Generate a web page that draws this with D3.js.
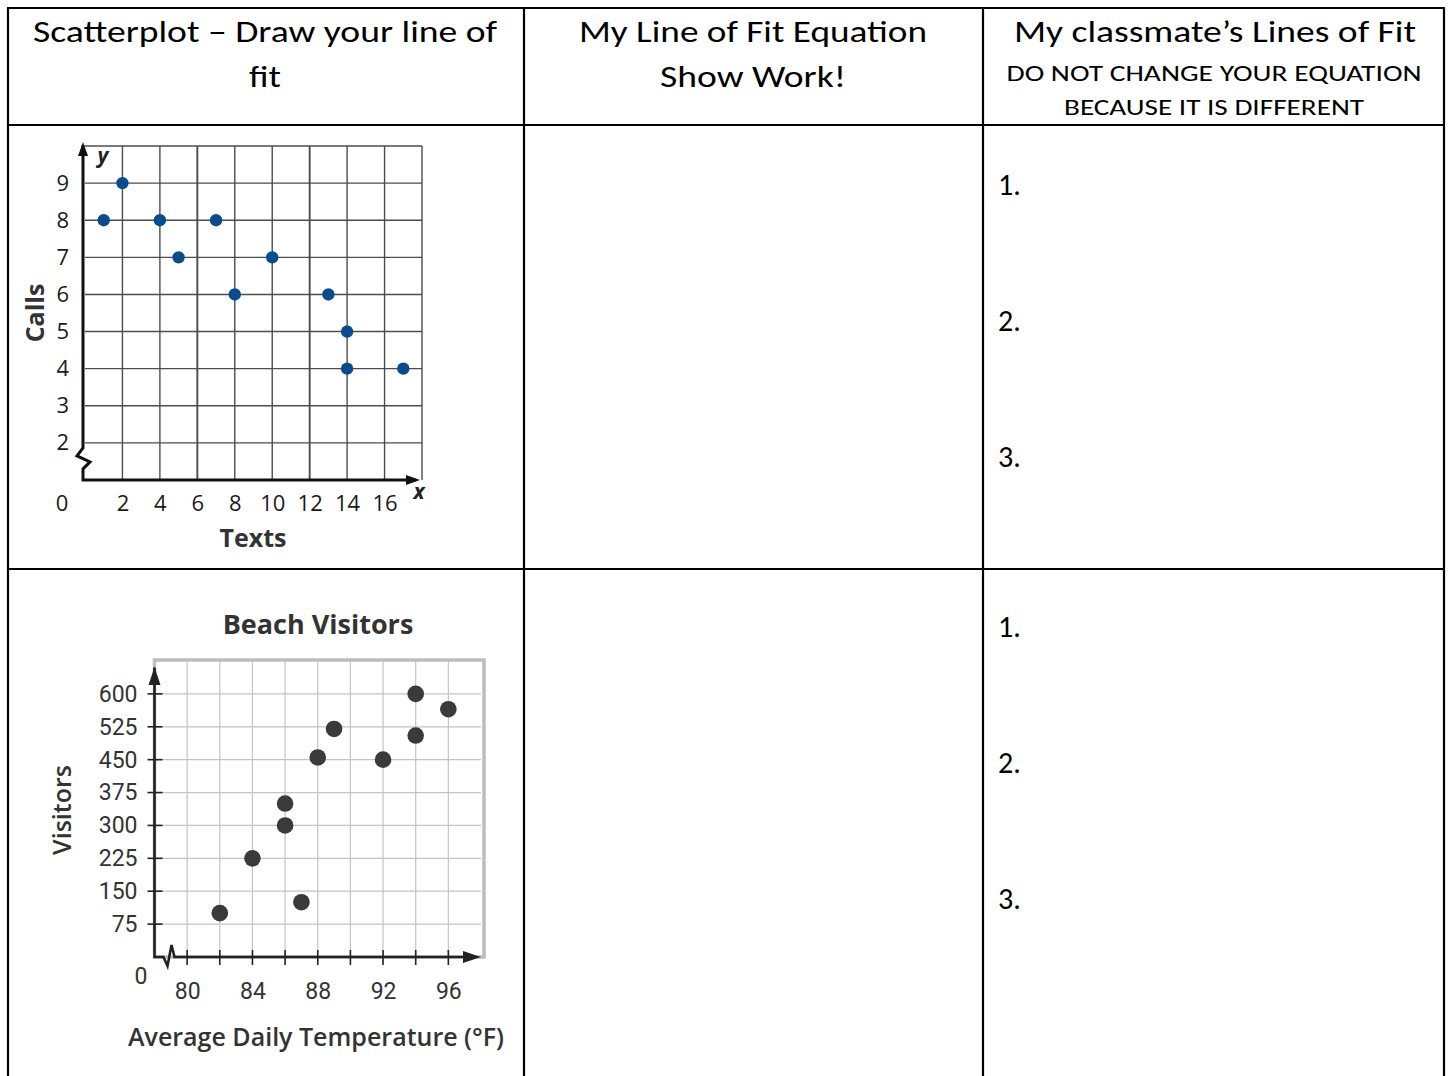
<!DOCTYPE html>
<html>
<head>
<meta charset="utf-8">
<script src="https://cdn.jsdelivr.net/npm/d3@7"></script>
<style>
  html, body { margin: 0; padding: 0; background: #fff; }
  svg { display: block; }
</style>
</head>
<body>
<svg id="page" width="1452" height="1076"></svg>
<script>
// ---------- DATA ----------
const headerCol1 = ["Scatterplot \u2013 Draw your line of", "fit"];
const headerCol2 = ["My Line of Fit Equation", "Show Work!"];
const headerCol3 = ["My classmate\u2019s Lines of Fit"];
const headerCol3Small = ["DO NOT CHANGE YOUR EQUATION", "BECAUSE IT IS DIFFERENT"];
const listNumbers = ["1.", "2.", "3."];

// Chart 1: Texts vs Calls
const textsX = [1, 2, 4, 5, 7, 8, 10, 13, 14, 14, 17];
const callsY = [8, 9, 8, 7, 8, 6, 7, 6, 5, 4, 4];
const textsTicks = [2, 4, 6, 8, 10, 12, 14, 16];
const callsTicks = [2, 3, 4, 5, 6, 7, 8, 9];

// Chart 2: Beach Visitors
const tempX = [82, 84, 86, 86, 87, 88, 89, 92, 94, 94, 96];
const visitorsY = [100, 225, 350, 300, 125, 455, 520, 450, 600, 505, 565];
const tempTicks = [80, 84, 88, 92, 96];
const tempGrid = [80, 82, 84, 86, 88, 90, 92, 94, 96];
const visitorTicks = [75, 150, 225, 300, 375, 450, 525, 600];

// ---------- PAGE / TABLE ----------
const svg = d3.select("#page");
const headFont = "Carlito, 'Open Sans', Lato, sans-serif";
const chartFont = "'Open Sans', 'Noto Sans', sans-serif";

const colX = [8, 524, 983, 1444];
const rowY = [8, 125, 569, 1080];

const table = svg.append("g").attr("stroke", "#000").attr("stroke-width", 2.2);
colX.forEach(x => table.append("line").attr("x1", x).attr("x2", x).attr("y1", rowY[0]).attr("y2", 1076));
rowY.slice(0, 3).forEach(y => table.append("line").attr("x1", colX[0] - 1).attr("x2", colX[3] + 1).attr("y1", y).attr("y2", y));

function headerLines(lines, cx, y0, dy, size, widths) {
  lines.forEach((t, i) => {
    const el = svg.append("text")
      .attr("x", cx).attr("y", y0 + i * dy)
      .attr("text-anchor", "middle")
      .attr("font-family", headFont).attr("font-size", size).attr("fill", "#000")
      .text(t);
    if (widths && widths[i]) el.attr("textLength", widths[i]).attr("lengthAdjust", "spacingAndGlyphs");
  });
}
headerLines(headerCol1, 265, 42, 45, 30, [464, 32]);
headerLines(headerCol2, 753, 42, 45, 30, [348, 186]);
headerLines(headerCol3, 1215, 42, 45, 30, [402]);
headerLines(headerCol3Small, 1214, 81, 34, 22, [415, 300]);

[[195, 136], [637, 136]].forEach(([y0, dy]) => {
  listNumbers.forEach((t, i) => svg.append("text")
    .attr("x", 998).attr("y", y0 + i * dy)
    .attr("font-family", headFont).attr("font-size", 30).attr("fill", "#000")
    .text(t));
});

// ---------- CHART 1 ----------
const c1 = svg.append("g");
const x1 = d3.scaleLinear().domain([0, 18]).range([85, 422]);
const y1 = d3.scaleLinear().domain([1, 10]).range([480, 146]);

const grid1 = c1.append("g").attr("stroke", "#4d4d4d").attr("stroke-width", 1.4);
d3.range(2, 19, 2).forEach(v => grid1.append("line")
  .attr("x1", x1(v)).attr("x2", x1(v)).attr("y1", y1(10)).attr("y2", y1(1))
  .attr("stroke-width", (v === 6 || v === 12) ? 1.9 : 1.4));
d3.range(2, 11).forEach(v => grid1.append("line")
  .attr("x1", x1(0)).attr("x2", x1(18)).attr("y1", y1(v)).attr("y2", y1(v)));

// axes with break
const ax0 = x1(0) - 2;
c1.append("path")
  .attr("d", `M${ax0},${y1(10) - 1} L${ax0},${y1(2) + 5} L${ax0 - 6},${y1(2) + 13} L${ax0 + 7},${y1(2) + 19} L${ax0},${y1(2) + 26} L${ax0},${y1(1)} L${x1(18) - 6},${y1(1)}`)
  .attr("fill", "none").attr("stroke", "#111").attr("stroke-width", 3);
c1.append("path")
  .attr("d", `M${ax0},${y1(10) - 4} l-5,14 l10,0 Z`).attr("fill", "#111");
c1.append("path")
  .attr("d", `M${x1(18) - 2},${y1(1)} l-14,-5 l0,10 Z`).attr("fill", "#111");

// tick labels via axes
const yAx1 = c1.append("g").attr("transform", `translate(${x1(0)},0)`)
  .call(d3.axisLeft(y1).tickValues(callsTicks).tickSize(0).tickPadding(16));
const xAx1 = c1.append("g").attr("transform", `translate(0,${y1(1)})`)
  .call(d3.axisBottom(x1).tickValues(textsTicks).tickSize(0).tickPadding(15));
[yAx1, xAx1].forEach(a => {
  a.select(".domain").remove();
  a.selectAll("text").attr("font-family", chartFont).attr("font-size", 22).attr("fill", "#1a1a1a");
});
c1.append("text").attr("x", 62).attr("y", 511).attr("text-anchor", "middle")
  .attr("font-family", chartFont).attr("font-size", 22).attr("fill", "#1a1a1a").text("0");
c1.append("text").attr("x", 103).attr("y", 163).attr("text-anchor", "middle")
  .attr("font-family", chartFont).attr("font-size", 21).attr("font-weight", "bold").attr("font-style", "italic").attr("fill", "#222").text("y");
c1.append("text").attr("x", 419).attr("y", 499).attr("text-anchor", "middle")
  .attr("font-family", chartFont).attr("font-size", 21).attr("font-weight", "bold").attr("font-style", "italic").attr("fill", "#222").text("x");
c1.append("text").attr("transform", "translate(44,313) rotate(-90)").attr("text-anchor", "middle")
  .attr("font-family", chartFont).attr("font-size", 25).attr("font-weight", "bold").attr("fill", "#333").text("Calls");
c1.append("text").attr("x", 253).attr("y", 547).attr("text-anchor", "middle")
  .attr("font-family", chartFont).attr("font-size", 25).attr("font-weight", "bold").attr("fill", "#333").text("Texts");

c1.append("g").selectAll("circle").data(textsX).join("circle")
  .attr("cx", (d) => x1(d)).attr("cy", (d, i) => y1(callsY[i])).attr("r", 6.2)
  .attr("fill", "#0a4b8c");

// ---------- CHART 2 ----------
const c2 = svg.append("g");
const x2 = d3.scaleLinear().domain([78, 98]).range([154.5, 481]);
const y2 = d3.scaleLinear().domain([0, 675]).range([957, 661]);

// frame
c2.append("rect").attr("x", x2(78)).attr("y", y2(675) - 1).attr("width", x2(98) - x2(78) + 3).attr("height", y2(0) - y2(675) + 1)
  .attr("fill", "none").attr("stroke", "#bdbdbd").attr("stroke-width", 3.5);
const grid2 = c2.append("g").attr("stroke", "#c4c4c4").attr("stroke-width", 1.2);
tempGrid.forEach(v => grid2.append("line")
  .attr("x1", x2(v)).attr("x2", x2(v)).attr("y1", y2(675)).attr("y2", y2(0)));
visitorTicks.forEach(v => grid2.append("line")
  .attr("x1", x2(78)).attr("x2", x2(98)).attr("y1", y2(v)).attr("y2", y2(v)));

// tick marks crossing axes
const tm = c2.append("g").attr("stroke", "#222").attr("stroke-width", 1.6);
visitorTicks.forEach(v => tm.append("line").attr("x1", x2(78) - 7).attr("x2", x2(78) + 8).attr("y1", y2(v)).attr("y2", y2(v)));
tempGrid.forEach(v => tm.append("line").attr("x1", x2(v)).attr("x2", x2(v)).attr("y1", y2(0) - 7).attr("y2", y2(0) + 8));

const bx = x2(78);
c2.append("path")
  .attr("d", `M${bx},${y2(660)} L${bx},${y2(0)} L${bx + 9},${y2(0)} L${bx + 13},${y2(0) + 9} L${bx + 17},${y2(0) - 12} L${bx + 20},${y2(0)} L${x2(98) - 6},${y2(0)}`)
  .attr("fill", "none").attr("stroke", "#222").attr("stroke-width", 2.6);
c2.append("path").attr("d", `M${bx},${y2(675) + 6} l-6,18 l12,0 Z`).attr("fill", "#222");
c2.append("path").attr("d", `M${x2(98)},${y2(0)} l-18,-6 l0,12 Z`).attr("fill", "#222");

const yAx2 = c2.append("g").attr("transform", `translate(${x2(78)},0)`)
  .call(d3.axisLeft(y2).tickValues(visitorTicks).tickSize(0).tickPadding(17));
const xAx2 = c2.append("g").attr("transform", `translate(0,${y2(0)})`)
  .call(d3.axisBottom(x2).tickValues(tempTicks).tickSize(0).tickPadding(26));
[yAx2, xAx2].forEach(a => {
  a.select(".domain").remove();
  a.selectAll("text").attr("font-family", "Roboto, 'Liberation Sans', sans-serif").attr("font-size", 23).attr("fill", "#333");
});
c2.append("text").attr("x", 141).attr("y", 984).attr("text-anchor", "middle")
  .attr("font-family", "Roboto, sans-serif").attr("font-size", 23).attr("fill", "#333").text("0");

c2.append("text").attr("x", 318).attr("y", 634).attr("text-anchor", "middle")
  .attr("font-family", chartFont).attr("font-size", 27).attr("font-weight", "bold").attr("fill", "#333").text("Beach Visitors");
c2.append("text").attr("transform", "translate(71,810) rotate(-90)").attr("text-anchor", "middle")
  .attr("font-family", chartFont).attr("font-size", 25).attr("font-weight", 600).attr("fill", "#333").text("Visitors");
c2.append("text").attr("x", 316).attr("y", 1046).attr("text-anchor", "middle")
  .attr("font-family", chartFont).attr("font-size", 25).attr("font-weight", 600).attr("fill", "#333").text("Average Daily Temperature (\u00b0F)");

c2.append("g").selectAll("circle").data(tempX).join("circle")
  .attr("cx", d => x2(d)).attr("cy", (d, i) => y2(visitorsY[i])).attr("r", 8.3)
  .attr("fill", "#3a3a3a");
</script>
</body>
</html>
